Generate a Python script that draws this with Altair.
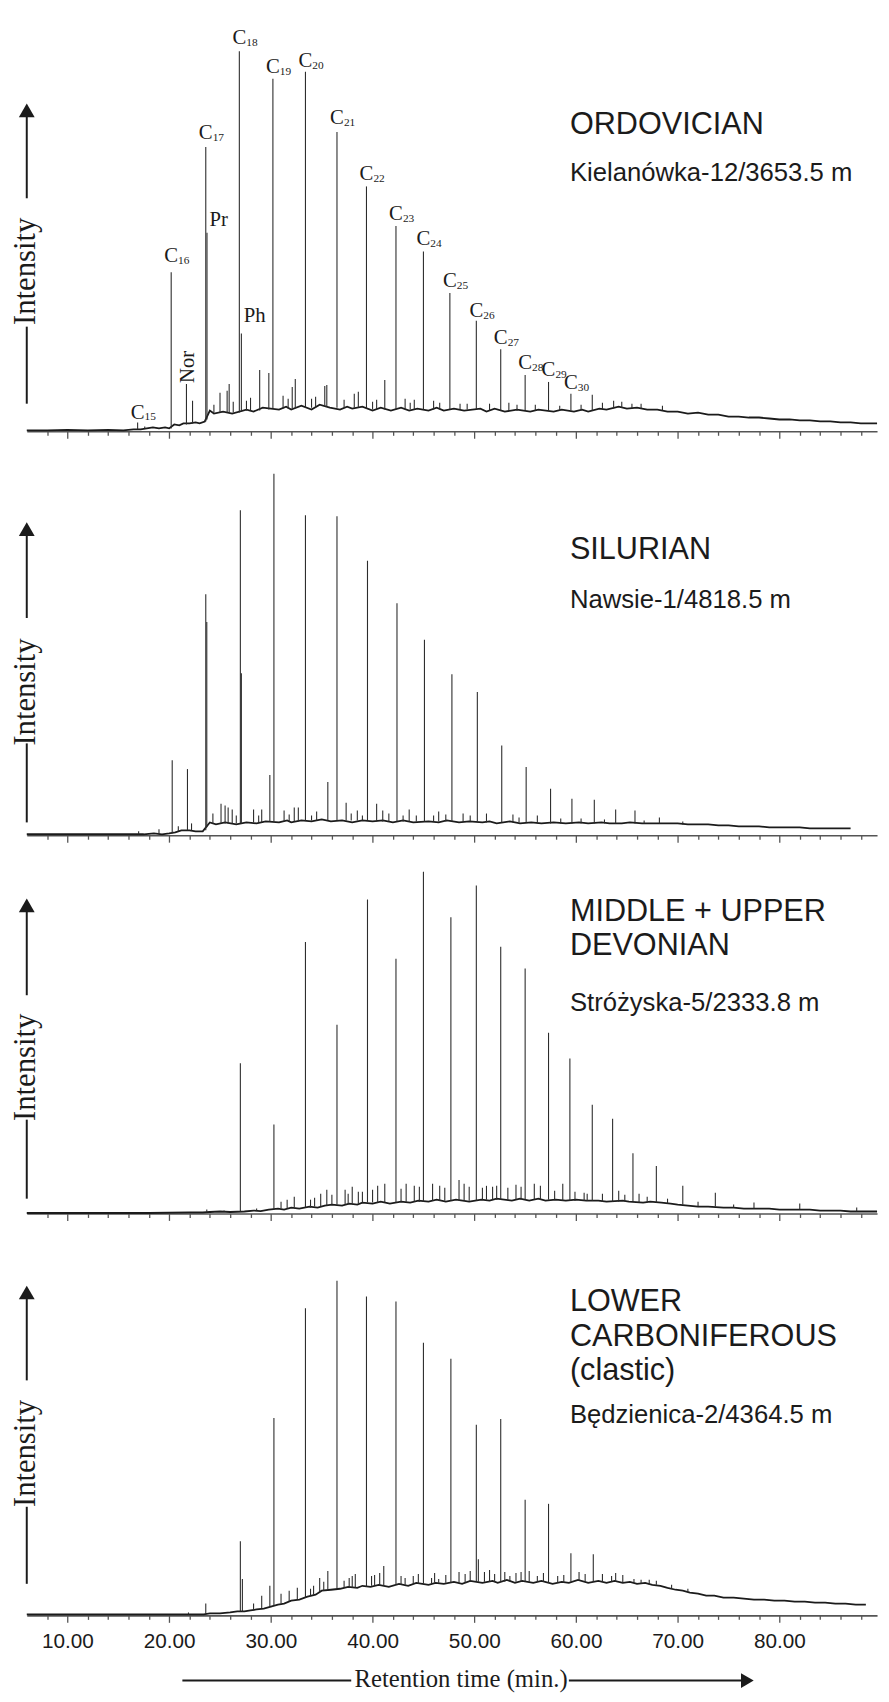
import altair as alt
import pandas as pd

# ---------------- layout / style ----------------
X_DOMAIN = [6.0, 89.6]
PLOT_W = 861
H = [418, 401, 375, 399]
SERIF = "Liberation Serif"
SANS = "Liberation Sans"
INK = "#1b1b1b"
PEAK = "#2c2c2c"
AXC = "#555555"

TICKS = list(range(8, 89, 2))

# ---------------- ORDOVICIAN ----------------
ORD_BASE_T = [6.0, 8.0, 10.0, 12.0, 14.0, 15.5, 16.5, 17.2, 17.8, 18.4, 19.0, 19.6, 20.0, 20.5, 21.0, 21.4, 22.0,
              22.6, 23.0, 23.5, 24.0, 24.4, 25.3, 26.2, 27.6, 28.3, 29.2, 30.8, 31.5, 32.0, 33.0, 34.0, 34.8, 35.8,
              36.8, 37.5, 38.0, 39.0, 40.0, 40.8, 41.8, 42.8, 43.6, 44.4, 45.5, 46.3, 47.0, 48.0, 49.0, 50.6, 51.2,
              52.0, 53.0, 54.2, 55.5, 56.3, 57.8, 58.6, 59.8, 60.6, 61.2, 62.3, 63.0, 64.2, 65.0, 66.0, 67.0, 68.0,
              69.0, 70.0, 71.0, 72.0, 73.0, 74.0, 75.0, 76.0, 77.0, 78.0, 79.0, 80.0, 81.0, 82.0, 83.0, 84.0, 85.0,
              86.0, 87.0, 88.0, 89.0, 89.6]
ORD_BASE_V = [1, 1, 1.5, 1, 1.5, 1, 2, 2, 3, 4, 3, 4, 3, 7, 6, 8, 8,
              9, 8, 10, 21, 18, 20, 18, 22, 20, 24, 22, 25, 22, 26, 22, 27, 24,
              22, 25, 23, 25, 21, 24, 21, 24, 21, 23, 21, 24, 21, 23, 21, 23, 20,
              23, 20, 22, 20, 22, 20, 22, 20, 22, 20, 23, 22, 25, 23, 24, 22, 22,
              20, 20, 18, 19, 17, 17, 15, 15, 14, 14, 13, 12, 12, 11, 11, 10, 10,
              9, 9, 8, 8, 8]
ORD_PEAK_T = [16.9, 17.6, 20.2, 21.7, 22.3, 23.6, 23.72, 25.0, 25.7, 25.9, 26.9, 27.1, 28.0, 28.9, 29.8, 30.2,
              31.2, 32.1, 32.4, 33.4, 34.4, 35.3, 35.5, 36.5, 38.2, 38.6, 39.4, 40.4, 41.2, 42.3, 43.2, 44.1,
              45.0, 46.0, 47.6, 48.6, 50.2, 51.5, 52.6, 53.4, 55.0, 56.0, 57.3, 58.4, 59.5, 61.6, 63.7, 65.5,
              24.4, 26.3, 27.6, 31.7, 34.0, 37.2, 40.0, 43.7, 46.6, 49.3, 54.2, 60.5, 62.6, 64.5, 66.4, 68.5]
ORD_PEAK_TOP = [9, 5, 161, 48, 31, 288, 201, 39, 41, 48, 385, 99, 34, 62, 59, 357,
                36, 45, 53, 364, 35, 46, 47, 303, 38, 40, 248, 32, 52, 208, 33, 32,
                182, 31, 140, 28, 112, 28, 83, 29, 57, 27, 50, 26, 38, 37, 31, 28,
                27, 30, 31, 33, 33, 32, 30, 29, 29, 28, 27, 27, 29, 30, 28, 26]
ORD_PEAK_BASE = [2, 3, 3, 7, 8, 10, 12, 19, 19, 19, 19, 20, 21, 21, 22, 23,
                 23, 23, 23, 24, 24, 25, 25, 24, 24, 24, 23, 22, 22, 22, 22, 22,
                 22, 22, 22, 22, 22, 21, 21, 21, 21, 21, 21, 21, 21, 21, 23, 23,
                 19, 19, 21, 23, 24, 24, 22, 22, 22, 22, 21, 21, 22, 24, 23, 21]
# n-alkane labels (C with subscript)
ORD_LABEL_NUM = ["15", "16", "17", "18", "19", "20", "21", "22", "23", "24", "25", "26", "27", "28", "29", "30"]
ORD_LABEL_T = [16.9, 20.2, 23.6, 26.9, 30.2, 33.4, 36.5, 39.4, 42.3, 45.0, 47.6, 50.2, 52.6, 55.0, 57.3, 59.5]
ORD_LABEL_Y = [13, 171, 296, 392, 363, 369, 311, 254, 214, 189, 146, 116, 88, 63, 56, 43]
ORD_ISO_TXT = ["Pr", "Ph"]
ORD_ISO_T = [23.72, 27.1]
ORD_ISO_Y = [208, 111]
ORD_NOR_T = [21.7]
ORD_NOR_Y = [49]

# ---------------- SILURIAN ----------------
SIL_BASE_T = [6.0, 8.0, 10.0, 12.0, 14.0, 16.0, 17.5, 18.5, 19.3, 20.0, 20.6, 21.2, 22.0, 22.6, 23.3, 24.0, 24.6,
              25.5, 26.6, 27.6, 28.6, 29.5, 30.8, 31.6, 32.0, 33.0, 34.0, 35.0, 35.9, 37.0, 38.0, 39.0, 40.0,
              41.0, 42.0, 43.0, 44.0, 45.5, 46.5, 47.3, 48.5, 49.5, 50.8, 51.5, 52.2, 53.5, 54.5, 55.6, 56.6,
              57.8, 59.0, 60.3, 61.2, 62.5, 63.3, 64.5, 65.3, 66.5, 67.5, 68.8, 70.0, 71.0, 72.0, 73.0, 74.0,
              75.0, 76.0, 77.0, 78.0, 79.0, 80.0, 81.0, 82.0, 83.0, 84.0, 85.0, 86.0, 87.0]
SIL_BASE_V = [1, 1, 1, 1, 1, 1, 1, 2, 1, 2, 3, 5, 5, 4, 4, 13, 11,
              13, 11, 13, 12, 14, 13, 15, 13, 15, 14, 16, 14, 15, 13, 15, 14,
              15, 13, 15, 13, 14, 13, 15, 13, 14, 13, 14, 12, 14, 12, 13, 12,
              13, 12, 13, 12, 13, 12, 12, 13, 12, 12, 12, 12, 11, 11, 11, 10,
              10, 9, 9, 9, 8, 8, 8, 8, 7, 7, 7, 7, 7]
SIL_PEAK_T = [17.0, 19.0, 20.3, 20.9, 21.8, 22.2, 23.6, 23.7, 25.1, 25.5, 25.8, 26.2, 27.0, 27.1, 28.3, 29.1,
              29.9, 30.3, 31.3, 32.3, 32.7, 33.4, 34.5, 35.6, 36.5, 37.4, 38.5, 39.5, 40.4, 41.0, 42.4, 43.6,
              45.1, 46.5, 47.8, 48.9, 50.3, 51.2, 52.7, 53.8, 55.1, 56.2, 57.5, 59.6, 61.8, 63.9, 65.8, 68.2,
              24.3, 26.6, 28.8, 31.8, 34.0, 37.9, 39.0, 41.6, 43.0, 44.3, 46.0, 47.2, 49.6, 54.4, 58.5, 60.5,
              62.8, 66.7, 70.5]
SIL_PEAK_TOP = [4, 6, 76, 9, 67, 12, 244, 216, 32, 30, 28, 26, 329, 164, 26, 26,
                61, 366, 25, 28, 28, 324, 24, 54, 323, 33, 25, 278, 32, 25, 235, 26,
                198, 24, 163, 22, 145, 22, 91, 21, 69, 20, 47, 37, 36, 26, 25, 18,
                22, 20, 20, 21, 20, 22, 20, 22, 20, 20, 20, 21, 20, 18, 17, 17,
                16, 15, 14]
SIL_PEAK_BASE = [1, 1, 2, 4, 5, 5, 5, 8, 12, 12, 12, 12, 12, 12, 13, 13,
                 14, 14, 14, 14, 14, 15, 15, 15, 15, 15, 15, 15, 14, 14, 14, 14,
                 14, 14, 14, 14, 14, 13, 13, 13, 13, 12, 12, 12, 12, 12, 12, 12,
                 12, 12, 13, 14, 15, 15, 15, 14, 14, 14, 14, 14, 14, 13, 12, 12,
                 12, 12, 11]

# ---------------- MIDDLE + UPPER DEVONIAN ----------------
DEV_BASE_T = [6.0, 10.0, 14.0, 18.0, 22.0, 23.3, 24.0, 25.0, 26.0, 27.4, 28.3, 29.0, 29.8, 30.7, 31.3, 32.0,
              32.8, 33.8, 34.6, 35.3, 36.0, 37.0, 37.7, 38.5, 39.0, 40.0, 40.8, 41.7, 42.8, 43.7, 44.5, 45.5,
              46.3, 47.2, 48.2, 49.5, 50.7, 51.5, 52.2, 53.7, 54.5, 55.4, 56.3, 57.0, 58.0, 59.0, 60.0, 61.0,
              62.2, 63.0, 64.6, 65.2, 66.6, 67.3, 68.4, 69.3, 70.0, 71.0, 72.0, 73.0, 74.5, 75.5, 76.5, 78.0,
              79.0, 80.0, 81.0, 83.0, 84.0, 85.0, 86.0, 87.0, 88.5, 89.6]
DEV_BASE_V = [0.5, 0.5, 0.5, 0.5, 1, 1, 1.5, 2, 1.5, 2, 3, 2.5, 4, 5, 4, 6,
              5, 7, 6, 8, 9, 8, 10, 9, 11, 10, 12, 10, 12, 11, 13, 12,
              14, 12, 14, 12, 14, 13, 15, 13, 15, 13, 15, 13, 14, 13, 14, 13,
              13, 12, 13, 12, 11, 12, 11, 10, 9, 8, 7, 7, 6, 6, 5, 5,
              5, 4, 4, 4, 3, 3, 3, 2, 2, 2]
DEV_PEAK_T = [23.7, 25.4, 27.0, 28.6, 30.3, 31.0, 31.6, 32.3, 33.4, 34.3, 34.9, 35.5, 36.5, 37.3, 38.0, 38.6,
              39.5, 40.5, 41.2, 42.3, 43.3, 44.1, 45.0, 45.9, 46.6, 47.7, 48.5, 49.0, 50.2, 51.2, 51.8, 52.6,
              53.3, 54.1, 55.0, 55.9, 57.3, 57.9, 58.7, 59.4, 60.8, 61.6, 63.6, 64.2, 65.6, 66.2, 67.9, 70.5,
              73.7, 77.5, 82.0, 87.6,
              33.9, 36.0, 37.6, 39.0, 40.0, 42.8, 44.6, 47.1, 49.5, 50.8, 52.2, 54.6, 56.5, 59.9, 61.1, 62.6,
              64.8, 67.0, 69.0, 72.0, 75.5]
DEV_PEAK_TOP = [4, 3, 152, 5, 90, 12, 14, 17, 275, 16, 20, 24, 191, 24, 27, 22,
                318, 28, 30, 258, 30, 28, 346, 30, 28, 300, 34, 30, 332, 28, 27, 270,
                26, 29, 248, 30, 183, 23, 30, 157, 21, 110, 96, 23, 61, 20, 48, 28,
                21, 11, 10, 6,
                14, 19, 20, 22, 24, 25, 27, 26, 27, 26, 28, 27, 28, 22, 20, 20,
                19, 17, 15, 12, 9]
DEV_PEAK_BASE = [1, 2, 2, 3, 4, 5, 5, 6, 6, 7, 7, 8, 9, 9, 10, 10,
                 11, 11, 11, 11, 12, 12, 12, 13, 13, 13, 13, 13, 13, 14, 14, 14,
                 14, 14, 14, 14, 14, 14, 13, 13, 13, 13, 12, 12, 12, 11, 11, 9,
                 7, 5, 4, 2,
                 6, 9, 9, 11, 11, 12, 12, 13, 13, 14, 14, 14, 14, 13, 13, 12,
                 12, 11, 10, 7, 6]

# ---------------- LOWER CARBONIFEROUS ----------------
CAR_BASE_T = [6.0, 10.0, 14.0, 18.0, 21.0, 22.5, 23.4, 24.0, 25.0, 26.0, 26.7, 27.4, 28.0, 28.6, 29.3, 30.0,
              30.7, 31.3, 32.0, 32.8, 33.6, 34.4, 35.0, 35.9, 36.8, 37.6, 38.5, 39.0, 39.8, 40.6, 41.6, 42.6,
              43.5, 44.3, 45.5, 46.2, 47.0, 48.0, 48.8, 49.6, 50.8, 51.8, 52.3, 53.2, 54.0, 54.7, 55.8, 56.6,
              57.7, 58.6, 59.3, 60.2, 61.2, 62.2, 63.0, 63.8, 64.6, 65.3, 66.0, 66.8, 67.5, 68.3, 69.0, 69.8,
              70.5, 71.2, 72.0, 72.8, 73.6, 74.5, 75.5, 76.5, 77.5, 78.5, 79.5, 80.5, 81.5, 82.5, 83.5, 84.5,
              85.5, 86.5, 87.5, 88.5]
CAR_BASE_V = [1, 1, 1, 1, 1, 1, 1, 2, 2, 3, 4, 4, 5, 6, 7, 9,
              11, 12, 15, 16, 19, 21, 25, 26, 27, 29, 28, 30, 29, 31, 29, 32,
              30, 33, 31, 33, 32, 34, 32, 35, 33, 35, 33, 36, 33, 35, 33, 35,
              32, 34, 33, 36, 33, 35, 33, 35, 33, 34, 32, 33, 31, 30, 28, 26,
              25, 23, 22, 20, 20, 18, 18, 17, 16, 16, 15, 15, 14, 14, 13, 13,
              12, 12, 11, 11]
CAR_PEAK_T = [21.9, 23.6, 27.0, 27.2, 28.3, 29.1, 29.9, 30.3, 31.0, 31.8, 32.6, 33.4, 34.2, 34.8, 35.6, 36.5,
              37.2, 38.0, 38.3, 39.4, 40.2, 41.1, 42.3, 43.2, 44.0, 45.0, 45.8, 46.5, 47.7, 49.1, 50.2, 50.4,
              51.5, 52.0, 52.6, 53.5, 54.1, 55.0, 55.4, 56.2, 57.3, 58.2, 59.5, 60.3, 61.7, 62.6, 63.5, 63.9,
              65.7, 66.4, 67.9,
              33.9, 35.2, 37.7, 39.9, 40.7, 42.8, 44.5, 46.1, 47.2, 48.5, 49.6, 51.0, 53.0, 54.6, 56.8, 58.8,
              60.9, 64.6, 67.2, 69.4, 71.0]
CAR_PEAK_TOP = [3, 12, 75, 37, 12, 20, 30, 200, 22, 25, 28, 311, 30, 38, 45, 339,
                35, 40, 42, 323, 41, 50, 318, 38, 40, 276, 38, 37, 260, 42, 193, 57,
                46, 42, 199, 40, 43, 117, 45, 40, 113, 40, 63, 44, 62, 42, 40, 43,
                37, 36, 35,
                27, 34, 38, 40, 43, 40, 42, 43, 41, 44, 45, 44, 44, 44, 43, 41,
                42, 41, 36, 31, 27]
CAR_PEAK_BASE = [1, 1, 4, 4, 5, 7, 9, 10, 12, 14, 16, 18, 21, 24, 26, 27,
                 28, 28, 28, 29, 30, 30, 31, 31, 32, 32, 32, 33, 33, 33, 34, 34,
                 34, 34, 34, 34, 34, 34, 34, 34, 33, 33, 34, 35, 34, 34, 34, 34,
                 33, 32, 31,
                 20, 25, 28, 30, 30, 31, 32, 33, 33, 33, 34, 34, 34, 34, 34, 33,
                 34, 33, 31, 27, 24]

# ---------------- annotation text ----------------
TITLE_X = 59.4
TITLES = [
    (["ORDOVICIAN", "Kielanówka-12/3653.5 m"], [301, 253], [31, 26]),
    (["SILURIAN", "Nawsie-1/4818.5 m"], [280, 230], [31, 26]),
    (["MIDDLE + UPPER", "DEVONIAN", "Stróżyska-5/2333.8 m"], [296, 262, 205], [31, 31, 26]),
    (["LOWER", "CARBONIFEROUS", "(clastic)", "Będzienica-2/4364.5 m"], [308, 273, 238, 195], [31, 31, 31, 26]),
]
# "Intensity" arrow (levels above each panel's baseline axis)
INT_LOW = [28, 13, 15, 32]
INT_LOW_END = [106, 93, 95, 110]
INT_TEXT_Y = [162, 145, 148, 164]
INT_UP_START = [236, 220, 221, 238]
INT_HEAD_Y = [325, 310, 312, 327]
# "Retention time (min.)" arrow, in minutes
RET_LINE_FROM = [21.3, 59.3]
RET_LINE_TO = [37.9, 76.5]
RET_TEXT_T = [48.7]
RET_HEAD_T = [76.85]


def x_axis(show):
    return alt.Axis(
        values=TICKS, grid=False, title=None,
        domainColor=AXC, domainWidth=1.6,
        tickColor=AXC, tickWidth=1.3,
        tickSize={"condition": {"test": "datum.value % 10 === 0", "value": 7}, "value": 4},
        labels=show,
        labelExpr="datum.value % 10 === 0 ? format(datum.value, '.2f') : ''",
        labelFont=SANS, labelFontSize=21, labelColor=INK, labelPadding=8,
        labelOverlap=False, labelFlush=False,
    )


def xenc(show, field="t"):
    return alt.X(f"{field}:Q", scale=alt.Scale(domain=X_DOMAIN, nice=False, zero=False), axis=x_axis(show))


def panel(idx, base_t, base_v, pk_t, pk_top, pk_base, show):
    h = H[idx]
    ys = alt.Scale(domain=[0, h], nice=False, zero=False)

    def Y(f):
        return alt.Y(f"{f}:Q", scale=ys, axis=None)

    base_df = pd.DataFrame({"t": base_t, "v": base_v})
    line = alt.Chart(base_df).mark_line(color=INK, strokeWidth=1.8).encode(x=xenc(show), y=Y("v"))

    pk_df = pd.DataFrame({"t": pk_t, "top": pk_top, "base": pk_base})
    rules = alt.Chart(pk_df).mark_rule(color=PEAK, strokeWidth=1.1).encode(
        x=xenc(show), y=Y("base"), y2="top:Q")

    txt, ty, fs = TITLES[idx]
    tdf = pd.DataFrame({"t": [TITLE_X] * len(txt), "y": ty, "txt": txt, "fs": fs})
    titles = alt.Chart(tdf).mark_text(font=SANS, align="left", baseline="alphabetic", color=INK).encode(
        x=xenc(show), y=Y("y"), text="txt:N", size=alt.Size("fs:Q", scale=None, legend=None))

    ann = pd.DataFrame({"lo": [INT_LOW[idx]], "lo_end": [INT_LOW_END[idx]], "txt": [INT_TEXT_Y[idx]],
                        "up": [INT_UP_START[idx]], "head": [INT_HEAD_Y[idx]]})
    low = alt.Chart(ann).mark_rule(color=INK, strokeWidth=2).encode(x=alt.value(0), y=Y("lo"), y2="lo_end:Q")
    up = alt.Chart(ann).mark_rule(color=INK, strokeWidth=2).encode(x=alt.value(0), y=Y("up"), y2="head:Q")
    head = alt.Chart(ann).mark_point(shape="triangle-up", filled=True, size=256, color=INK, opacity=1,
                                     strokeWidth=0).encode(x=alt.value(0), y=Y("head"))
    itext = alt.Chart(ann).mark_text(text="Intensity", font=SERIF, fontSize=31, angle=270, align="center",
                                     baseline="middle", color=INK).encode(x=alt.value(-1), y=Y("txt"))

    layers = [line, rules, titles, low, up, head, itext]

    if idx == 0:
        ldf = pd.DataFrame({"t": ORD_LABEL_T, "y": ORD_LABEL_Y, "num": ORD_LABEL_NUM})
        cl = alt.Chart(ldf).mark_text(text="C", font=SERIF, fontSize=21, align="center",
                                      baseline="alphabetic", color=INK).encode(x=xenc(show), y=Y("y"))
        sub = alt.Chart(ldf).mark_text(font=SERIF, fontSize=11.5, align="left", baseline="alphabetic",
                                       dx=7, dy=2, color=INK).encode(x=xenc(show), y=Y("y"), text="num:N")
        idf = pd.DataFrame({"t": ORD_ISO_T, "y": ORD_ISO_Y, "txt": ORD_ISO_TXT})
        iso = alt.Chart(idf).mark_text(font=SERIF, fontSize=21, align="left", baseline="alphabetic",
                                       dx=2.5, color=INK).encode(x=xenc(show), y=Y("y"), text="txt:N")
        ndf = pd.DataFrame({"t": ORD_NOR_T, "y": ORD_NOR_Y})
        nor = alt.Chart(ndf).mark_text(text="Nor", font=SERIF, fontSize=21, angle=270, align="left",
                                       baseline="middle", dy=2, color=INK).encode(x=xenc(show), y=Y("y"))
        layers += [cl, sub, iso, nor]

    if idx == 3:
        ypix = h + 66
        rdf = pd.DataFrame({"t": RET_LINE_FROM, "t2": RET_LINE_TO})
        rlines = alt.Chart(rdf).mark_rule(color=INK, strokeWidth=2).encode(
            x=xenc(show), x2="t2:Q", y=alt.value(ypix))
        rtdf = pd.DataFrame({"t": RET_TEXT_T})
        rtext = alt.Chart(rtdf).mark_text(text="Retention time (min.)", font=SERIF, fontSize=25,
                                          align="center", baseline="middle", color=INK).encode(
            x=xenc(show), y=alt.value(h + 64))
        rhdf = pd.DataFrame({"t": RET_HEAD_T})
        rhead = alt.Chart(rhdf).mark_point(shape="triangle-right", filled=True, size=220, color=INK,
                                           opacity=1, strokeWidth=0).encode(x=xenc(show), y=alt.value(ypix))
        layers += [rlines, rtext, rhead]

    return alt.layer(*layers).properties(width=PLOT_W, height=h)


p1 = panel(0, ORD_BASE_T, ORD_BASE_V, ORD_PEAK_T, ORD_PEAK_TOP, ORD_PEAK_BASE, False)
p2 = panel(1, SIL_BASE_T, SIL_BASE_V, SIL_PEAK_T, SIL_PEAK_TOP, SIL_PEAK_BASE, False)
p3 = panel(2, DEV_BASE_T, DEV_BASE_V, DEV_PEAK_T, DEV_PEAK_TOP, DEV_PEAK_BASE, False)
p4 = panel(3, CAR_BASE_T, CAR_BASE_V, CAR_PEAK_T, CAR_PEAK_TOP, CAR_PEAK_BASE, True)

chart = alt.vconcat(p1, p2, p3, p4, spacing=8, bounds="flush").properties(
    padding={"left": 2, "top": 0, "right": 0, "bottom": 0},
    background="white",
).configure_view(stroke=None)

chart.save("out.html", embed_options={"renderer": "svg", "actions": False})
